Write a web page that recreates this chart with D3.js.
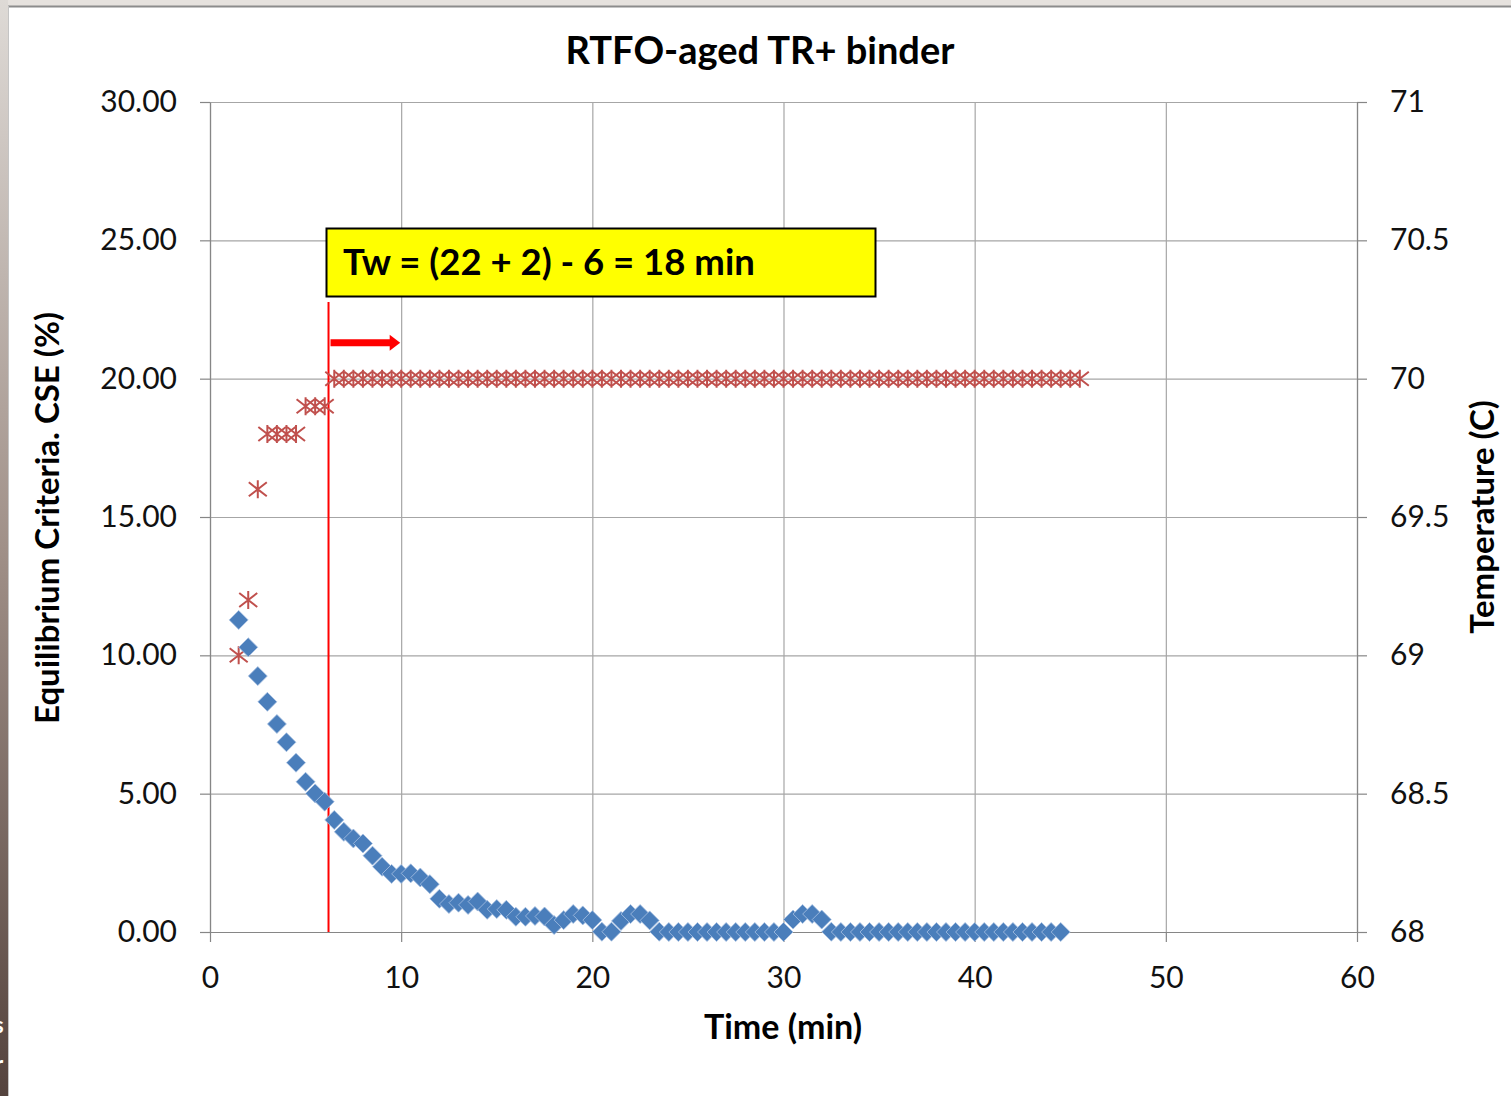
<!DOCTYPE html>
<html>
<head>
<meta charset="utf-8">
<script src="https://cdn.jsdelivr.net/npm/d3@7"></script>
<style>
  body { margin: 0; background: #fff; }
  svg { display: block; font-family: Lato, "Open Sans", sans-serif; }
</style>
</head>
<body>
<svg width="1511" height="1096"></svg>
<script>
// CSE (%) series, left axis
var cseTime = [1.5, 2, 2.5, 3, 3.5, 4, 4.5, 5, 5.5, 6, 6.5, 7, 7.5, 8, 8.5, 9, 9.5, 10, 10.5, 11, 11.5,
  12, 12.5, 13, 13.5, 14, 14.5, 15, 15.5, 16, 16.5, 17, 17.5, 18, 18.5, 19, 19.5, 20, 20.5, 21, 21.5,
  22, 22.5, 23, 23.5, 24, 24.5, 25, 25.5, 26, 26.5, 27, 27.5, 28, 28.5, 29, 29.5, 30, 30.5, 31, 31.5,
  32, 32.5, 33, 33.5, 34, 34.5, 35, 35.5, 36, 36.5, 37, 37.5, 38, 38.5, 39, 39.5, 40, 40.5, 41, 41.5,
  42, 42.5, 43, 43.5, 44, 44.5];
var cseValue = [11.28, 10.29, 9.25, 8.32, 7.52, 6.86, 6.12, 5.43, 5.01, 4.71, 4.05, 3.62, 3.38, 3.20, 2.76, 2.36, 2.10, 2.10, 2.12, 1.97, 1.73,
  1.20, 1.01, 1.06, 0.98, 1.10, 0.80, 0.83, 0.80, 0.55, 0.55, 0.58, 0.56, 0.25, 0.43, 0.65, 0.60, 0.43, 0.01, 0.01, 0.40,
  0.65, 0.65, 0.42, 0.01, 0, 0, 0, 0, 0, 0, 0, 0, 0, 0, 0, 0, 0, 0.45, 0.65, 0.65,
  0.45, 0.01, 0, 0, 0, 0, 0, 0, 0, 0, 0, 0, 0, 0, 0, 0, 0, 0, 0, 0,
  0, 0, 0, 0, 0, 0];

// Temperature (C) series, right axis
var tempTime = [1.5, 2, 2.5, 3, 3.5, 4, 4.5, 5, 5.5, 6, 6.5, 7, 7.5, 8, 8.5, 9, 9.5, 10, 10.5, 11, 11.5,
  12, 12.5, 13, 13.5, 14, 14.5, 15, 15.5, 16, 16.5, 17, 17.5, 18, 18.5, 19, 19.5, 20, 20.5, 21, 21.5,
  22, 22.5, 23, 23.5, 24, 24.5, 25, 25.5, 26, 26.5, 27, 27.5, 28, 28.5, 29, 29.5, 30, 30.5, 31, 31.5,
  32, 32.5, 33, 33.5, 34, 34.5, 35, 35.5, 36, 36.5, 37, 37.5, 38, 38.5, 39, 39.5, 40, 40.5, 41, 41.5,
  42, 42.5, 43, 43.5, 44, 44.5, 45, 45.5];
var tempValue = [69.0, 69.2, 69.6, 69.8, 69.8, 69.8, 69.8, 69.9, 69.9, 69.9, 70, 70, 70, 70, 70, 70, 70, 70, 70, 70, 70,
  70, 70, 70, 70, 70, 70, 70, 70, 70, 70, 70, 70, 70, 70, 70, 70, 70, 70, 70, 70,
  70, 70, 70, 70, 70, 70, 70, 70, 70, 70, 70, 70, 70, 70, 70, 70, 70, 70, 70, 70,
  70, 70, 70, 70, 70, 70, 70, 70, 70, 70, 70, 70, 70, 70, 70, 70, 70, 70, 70, 70,
  70, 70, 70, 70, 70, 70, 70, 70];

var xTicks = [0, 10, 20, 30, 40, 50, 60];
var leftTicks = [0, 5, 10, 15, 20, 25, 30];
var rightTicks = [68, 68.5, 69, 69.5, 70, 70.5, 71];

var titleText = "RTFO-aged TR+ binder";
var noteText = "Tw = (22 + 2) - 6 = 18 min";
var startTime = 6.2;   // red marker line

var svg = d3.select("svg");
var W = 1511, H = 1096;
var plotL = 210, plotR = 1357, plotT = 102, plotB = 932;

// window frame bits
var grad = svg.append("defs").append("linearGradient")
  .attr("id", "side").attr("x1", 0).attr("y1", 0).attr("x2", 0).attr("y2", 1);
grad.append("stop").attr("offset", "0").attr("stop-color", "#dedad6");
grad.append("stop").attr("offset", "0.5").attr("stop-color", "#a09088");
grad.append("stop").attr("offset", "1").attr("stop-color", "#54433d");
svg.append("rect").attr("x", 0).attr("y", 0).attr("width", W).attr("height", 6).attr("fill", "#e6e2de");
svg.append("rect").attr("x", 0).attr("y", 0).attr("width", 8).attr("height", H).attr("fill", "url(#side)");
svg.append("line").attr("x1", 8).attr("x2", W).attr("y1", 6.5).attr("y2", 6.5).attr("stroke", "#8c8c8c").attr("stroke-width", 2);
svg.append("line").attr("x1", 8.5).attr("x2", 8.5).attr("y1", 6).attr("y2", H).attr("stroke", "#c4c4c4").attr("stroke-width", 1);
svg.append("text").attr("x", -6).attr("y", 1033).attr("fill", "#fff").attr("font-size", 22).attr("font-weight", "bold").text("s");
svg.append("text").attr("x", -5).attr("y", 1072).attr("fill", "#fff").attr("font-size", 22).attr("font-weight", "bold").text("r");

var x = d3.scaleLinear().domain([0, 60]).range([plotL, plotR]);
var yL = d3.scaleLinear().domain([0, 30]).range([plotB, plotT]);
var yR = d3.scaleLinear().domain([68, 71]).range([plotB, plotT]);

// gridlines
svg.append("g").attr("class", "grid")
  .attr("transform", "translate(0," + plotB + ")")
  .call(d3.axisBottom(x).tickValues(xTicks).tickSize(-(plotB - plotT)).tickFormat(""));
svg.append("g").attr("class", "grid")
  .attr("transform", "translate(" + plotL + ",0)")
  .call(d3.axisLeft(yL).tickValues(leftTicks).tickSize(-(plotR - plotL)).tickFormat(""));
svg.selectAll(".grid .domain").remove();
svg.selectAll(".grid line").attr("stroke", "#a6a6a6").attr("stroke-width", 1.2);

// axes
var fmt2 = d3.format(".2f");
var gx = svg.append("g").attr("transform", "translate(0," + plotB + ")")
  .call(d3.axisBottom(x).tickValues(xTicks).tickSize(10).tickPadding(25).tickSizeOuter(0));
var gl = svg.append("g").attr("transform", "translate(" + plotL + ",0)")
  .call(d3.axisLeft(yL).tickValues(leftTicks).tickFormat(fmt2).tickSize(10).tickPadding(23).tickSizeOuter(0));
var gr = svg.append("g").attr("transform", "translate(" + plotR + ",0)")
  .call(d3.axisRight(yR).tickValues(rightTicks).tickFormat(function(d) { return d; }).tickSize(10).tickPadding(23).tickSizeOuter(0));
[gx, gl, gr].forEach(function(g) {
  g.selectAll("path.domain").attr("stroke", "#868686").attr("stroke-width", 1.2);
  g.selectAll(".tick line").attr("stroke", "#868686").attr("stroke-width", 1.2);
  g.selectAll("text").attr("font-family", "Lato, sans-serif").attr("font-size", 30).attr("fill", "#111");
});

// red vertical start line
svg.append("line")
  .attr("x1", x(startTime)).attr("x2", x(startTime))
  .attr("y1", 302).attr("y2", plotB)
  .attr("stroke", "#ff0000").attr("stroke-width", 2);

// arrow
var arrowY = yR(70.13);
svg.append("line")
  .attr("x1", x(startTime) + 2).attr("x2", x(9.5))
  .attr("y1", arrowY).attr("y2", arrowY)
  .attr("stroke", "#ff0000").attr("stroke-width", 7);
svg.append("path")
  .attr("d", "M" + x(9.4) + "," + (arrowY - 8) + " L" + x(9.95) + "," + arrowY + " L" + x(9.4) + "," + (arrowY + 8) + "Z")
  .attr("fill", "#ff0000");

// temperature asterisks
var tempData = tempTime.map(function(t, i) { return { t: t, v: tempValue[i] }; });
var star = "M0,-9 L0,9 M-9,-7 L9,7 M-9,7 L9,-7";
svg.append("g").selectAll("path")
  .data(tempData).enter().append("path")
  .attr("transform", function(d) { return "translate(" + x(d.t) + "," + yR(d.v) + ")"; })
  .attr("d", star)
  .attr("fill", "none")
  .attr("stroke", "#c0504d")
  .attr("stroke-width", 2);

// CSE diamonds
var cseData = cseTime.map(function(t, i) { return { t: t, v: cseValue[i] }; });
svg.append("g").selectAll("path")
  .data(cseData).enter().append("path")
  .attr("transform", function(d) { return "translate(" + x(d.t) + "," + yL(d.v) + ")"; })
  .attr("d", "M0,-9.5 L9.5,0 L0,9.5 L-9.5,0Z")
  .attr("fill", "#4a7ebb")
  .attr("stroke", "#a9c2e2")
  .attr("stroke-width", 0.8);

// yellow note box
svg.append("rect")
  .attr("x", 326.5).attr("y", 228.5)
  .attr("width", 549).attr("height", 68)
  .attr("fill", "#ffff00").attr("stroke", "#000").attr("stroke-width", 2);
svg.append("text")
  .attr("x", 343).attr("y", 275)
  .attr("font-size", 36.5).attr("font-weight", "bold").attr("fill", "#000")
  .text(noteText);

// title and axis labels
svg.append("text")
  .attr("x", 760).attr("y", 64)
  .attr("text-anchor", "middle").attr("font-size", 38).attr("font-weight", "bold")
  .text(titleText);
svg.append("text")
  .attr("x", 783).attr("y", 1039)
  .attr("text-anchor", "middle").attr("font-size", 34).attr("font-weight", "bold")
  .text("Time (min)");
svg.append("text")
  .attr("transform", "translate(59,518) rotate(-90)")
  .attr("text-anchor", "middle").attr("font-size", 33).attr("font-weight", "bold")
  .text("Equilibrium Criteria. CSE (%)");
svg.append("text")
  .attr("transform", "translate(1494,517) rotate(-90)")
  .attr("text-anchor", "middle").attr("font-size", 33).attr("font-weight", "bold")
  .text("Temperature (C)");
</script>
</body>
</html>
